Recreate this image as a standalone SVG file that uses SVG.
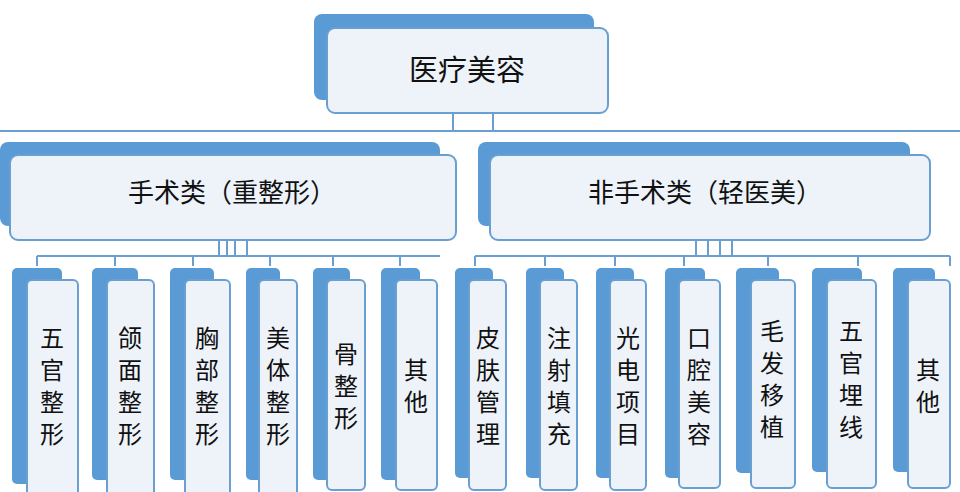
<svg xmlns="http://www.w3.org/2000/svg" width="960" height="492" viewBox="0 0 960 492">
<style>
.bk{fill:#5B9BD5}
.fr{fill:#EEF3FA;stroke:#6A9FD2;stroke-width:2}
.ln{stroke:#6A9FD2;stroke-width:2;fill:none}
text{font-family:"Noto Sans CJK SC",sans-serif;fill:#111;text-anchor:middle}
.t1{font-size:29px}.t2{font-size:26px}.t3{font-size:24px}
</style>
<rect width="960" height="492" fill="#fff"/>
<g id="connectors" class="ln">
<path d="M453 100V131M493 100V131M0 131H960"/>
<path d="M219 240V256M227 240V256M235 240V256M247 240V256M37 256H440M37 256V266M115 256V266M193 256V266M270 256V266M333 256V266M400 256V266"/>
<path d="M696 240V256M708 240V256M720 240V256M732 240V256M475 256H950M475 256V266M545 256V266M615 256V266M684 256V266M768 256V266M858 256V266M950 256V266"/>
</g>
<g id="root"><rect class="bk" x="314" y="14" width="280" height="86" rx="8"/><rect class="fr" x="327" y="28" width="281" height="85" rx="8"/><text class="t1" x="467" y="81">医疗美容</text></g>
<g id="surg"><rect class="bk" x="0" y="142" width="440" height="84" rx="8"/><rect class="fr" x="10" y="155" width="446" height="85" rx="8"/><text class="t2" x="232" y="202">手术类（重整形）</text></g>
<g id="nonsurg"><rect class="bk" x="478" y="142" width="432" height="84" rx="8"/><rect class="fr" x="490" y="155" width="440" height="85" rx="8"/><text class="t2" x="705" y="202">非手术类（轻医美）</text></g>
<g id="l1"><rect class="bk" x="12" y="268" width="50" height="216" rx="5"/><rect class="fr" x="27" y="280" width="51" height="220" rx="5"/><text class="t3" x="52" y="347"><tspan x="52">五</tspan><tspan x="52" dy="32">官</tspan><tspan x="52" dy="32">整</tspan><tspan x="52" dy="32">形</tspan></text></g>
<g id="l2"><rect class="bk" x="92" y="268" width="46" height="212" rx="5"/><rect class="fr" x="107" y="280" width="47" height="220" rx="5"/><text class="t3" x="130" y="347"><tspan x="130">颌</tspan><tspan x="130" dy="32">面</tspan><tspan x="130" dy="32">整</tspan><tspan x="130" dy="32">形</tspan></text></g>
<g id="l3"><rect class="bk" x="170" y="268" width="44" height="212" rx="5"/><rect class="fr" x="185" y="280" width="45" height="220" rx="5"/><text class="t3" x="207" y="347"><tspan x="207">胸</tspan><tspan x="207" dy="32">部</tspan><tspan x="207" dy="32">整</tspan><tspan x="207" dy="32">形</tspan></text></g>
<g id="l4"><rect class="bk" x="246" y="268" width="34" height="212" rx="5"/><rect class="fr" x="259" y="280" width="38" height="220" rx="5"/><text class="t3" x="278" y="347"><tspan x="278">美</tspan><tspan x="278" dy="32">体</tspan><tspan x="278" dy="32">整</tspan><tspan x="278" dy="32">形</tspan></text></g>
<g id="l5"><rect class="bk" x="313" y="268" width="37" height="212" rx="5"/><rect class="fr" x="327" y="280" width="38" height="210" rx="5"/><text class="t3" x="346" y="363"><tspan x="346">骨</tspan><tspan x="346" dy="32">整</tspan><tspan x="346" dy="32">形</tspan></text></g>
<g id="l6"><rect class="bk" x="381" y="268" width="39" height="212" rx="5"/><rect class="fr" x="396" y="280" width="41" height="210" rx="5"/><text class="t3" x="416" y="379"><tspan x="416">其</tspan><tspan x="416" dy="32">他</tspan></text></g>
<g id="r1"><rect class="bk" x="455" y="268" width="38" height="210" rx="5"/><rect class="fr" x="469" y="280" width="37" height="210" rx="5"/><text class="t3" x="488" y="347"><tspan x="488">皮</tspan><tspan x="488" dy="32">肤</tspan><tspan x="488" dy="32">管</tspan><tspan x="488" dy="32">理</tspan></text></g>
<g id="r2"><rect class="bk" x="526" y="268" width="38" height="210" rx="5"/><rect class="fr" x="540" y="280" width="37" height="210" rx="5"/><text class="t3" x="559" y="347"><tspan x="559">注</tspan><tspan x="559" dy="32">射</tspan><tspan x="559" dy="32">填</tspan><tspan x="559" dy="32">充</tspan></text></g>
<g id="r3"><rect class="bk" x="596" y="268" width="38" height="210" rx="5"/><rect class="fr" x="610" y="280" width="36" height="210" rx="5"/><text class="t3" x="628" y="347"><tspan x="628">光</tspan><tspan x="628" dy="32">电</tspan><tspan x="628" dy="32">项</tspan><tspan x="628" dy="32">目</tspan></text></g>
<g id="r4"><rect class="bk" x="665" y="268" width="40" height="210" rx="5"/><rect class="fr" x="679" y="280" width="41" height="208" rx="5"/><text class="t3" x="699" y="347"><tspan x="699">口</tspan><tspan x="699" dy="32">腔</tspan><tspan x="699" dy="32">美</tspan><tspan x="699" dy="32">容</tspan></text></g>
<g id="r5"><rect class="bk" x="736" y="268" width="43" height="205" rx="5"/><rect class="fr" x="751" y="280" width="44" height="208" rx="5"/><text class="t3" x="772" y="340"><tspan x="772">毛</tspan><tspan x="772" dy="32">发</tspan><tspan x="772" dy="32">移</tspan><tspan x="772" dy="32">植</tspan></text></g>
<g id="r6"><rect class="bk" x="812" y="268" width="50" height="204" rx="5"/><rect class="fr" x="827" y="280" width="49" height="208" rx="5"/><text class="t3" x="851" y="340"><tspan x="851">五</tspan><tspan x="851" dy="32">官</tspan><tspan x="851" dy="32">埋</tspan><tspan x="851" dy="32">线</tspan></text></g>
<g id="r7"><rect class="bk" x="893" y="268" width="42" height="204" rx="5"/><rect class="fr" x="908" y="280" width="42" height="208" rx="5"/><text class="t3" x="928" y="379"><tspan x="928">其</tspan><tspan x="928" dy="32">他</tspan></text></g>
</svg>
